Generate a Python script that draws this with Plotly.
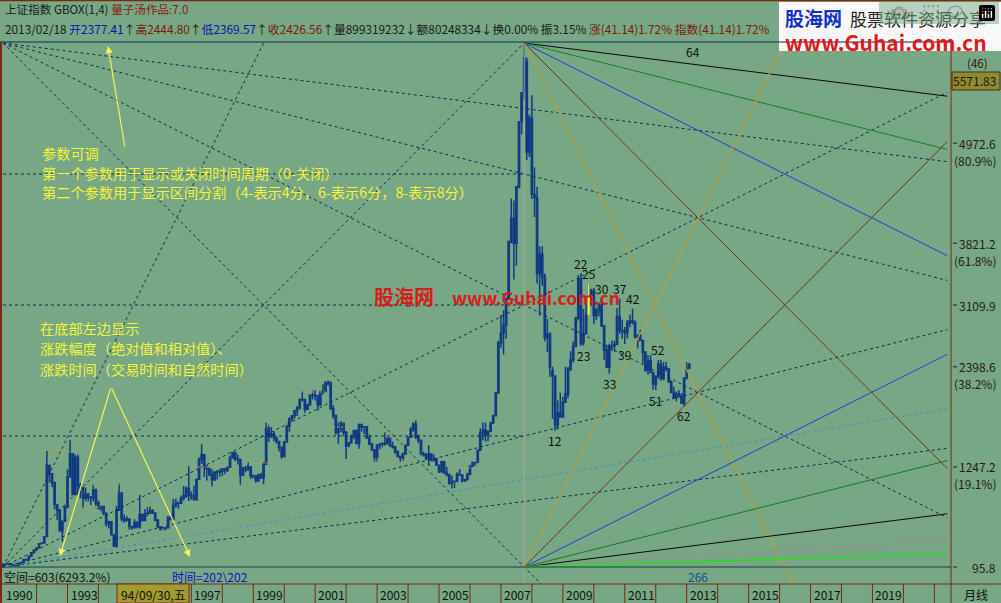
import plotly.graph_objects as go

# ---------------- data: monthly Shanghai Composite, Dec 1990 .. Feb 2013 ----------------
opens = [
    96.05,
    127.61, 129.51, 132.53, 120.67, 113.16, 114.79, 137.70, 143.96, 181.27, 180.58, 219.21, 260.34,
    293.74, 314.12, 365.14, 371.04, 446.17, 1259.72, 1168.91, 1064.45, 810.33, 752.5, 505, 621,
    783, 1136, 1398, 930, 1358, 1034, 1007, 886, 932, 899, 891, 981,
    833, 770, 792, 714, 593, 616, 467, 333, 750, 948, 651, 630,
    647, 563, 549, 607, 558, 701, 630, 712, 713, 746, 717, 633,
    555, 537, 537, 547, 668, 643, 804, 832, 829, 887, 913, 1002,
    917, 914, 870, 1106, 1334, 1386, 1250, 1222, 1156, 1100, 1190, 1189,
    1194, 1222, 1206, 1243, 1351, 1411, 1339, 1332, 1150, 1236, 1217, 1248,
    1146, 1134, 1090, 1158, 1120, 1279, 1689, 1601, 1627, 1586, 1539, 1474,
    1367, 1535, 1714, 1800, 1836, 1894, 1928, 2023, 2022, 1910, 1961, 2071,
    2073, 2065, 1959, 2112, 2119, 2214, 2218, 1920, 1834, 1642, 1690, 1747,
    1646, 1491, 1524, 1603, 1667, 1516, 1732, 1708, 1709, 1581, 1507, 1446,
    1358, 1500, 1512, 1510, 1521, 1576, 1487, 1476, 1421, 1367, 1349, 1397,
    1497, 1590, 1675, 1741, 1595, 1555, 1399, 1386, 1342, 1396, 1320, 1340,
    1266, 1191, 1306, 1181, 1159, 1060, 1080, 1083, 1162, 1155, 1092, 1099,
    1161, 1258, 1299, 1298, 1440, 1641, 1672, 1612, 1658, 1752, 1837, 2099,
    2675, 2786, 2881, 3183, 3841, 4109, 3820, 4471, 5218, 5552, 5914, 4871,
    5262, 4383, 4348, 3473, 3693, 3433, 2736, 2775, 2355, 2293, 1729, 1871,
    1821, 1991, 2082, 2373, 2477, 2633, 2959, 3412, 2680, 2779, 2996, 3195,
    3277, 2989, 3051, 3110, 2871, 2592, 2398, 2638, 2639, 2656, 2979, 2820,
    2808, 2791, 2906, 2928, 2911, 2743, 2762, 2701, 2568, 2359, 2468, 2333,
    2199, 2293, 2428, 2263, 2397, 2373, 2226, 2103, 2047, 2086, 2069, 1980,
    2269, 2385,
]
highs = [
    127.61,
    135.19, 134.87, 133.32, 120.86, 114.88, 137.56, 143.80, 180.92, 188.98, 218.60, 259.60, 292.75,
    313.24, 364.52, 372.74, 445.23, 1429.01, 1274.89, 1171.27, 1078.49, 824.29, 752.5, 629, 812,
    1221, 1558.95, 1402, 1392, 1390, 1065, 1019, 1009, 950, 912, 1044, 1000,
    864, 800, 798, 720, 629, 618, 470, 800, 1052.94, 951, 700, 679,
    654, 566, 644, 618, 926, 705, 762, 788, 792, 760, 722, 648,
    560, 556, 555, 679, 704, 882, 884, 850, 917, 1028, 1021, 1258,
    968, 1030, 1106, 1357, 1510, 1390, 1271, 1240, 1224, 1196, 1213, 1225,
    1234, 1234, 1248, 1378, 1422, 1423, 1390, 1333, 1249, 1262, 1300, 1252,
    1160, 1158, 1170, 1180, 1300, 1756, 1725, 1707, 1657, 1595, 1546, 1482,
    1546, 1728, 1817, 1845, 1900, 1948, 2024, 2114, 2032, 1977, 2082, 2125,
    2131, 2076, 2119, 2199, 2232, 2245, 2229, 1962, 1850, 1758, 1776, 1758,
    1660, 1530, 1617, 1674, 1678, 1748, 1748, 1714, 1718, 1620, 1525, 1447,
    1505, 1520, 1530, 1649, 1590, 1579, 1541, 1488, 1435, 1380, 1414, 1506,
    1598, 1707, 1760, 1783, 1616, 1555, 1424, 1406, 1496, 1398, 1390, 1347,
    1269, 1318, 1308, 1245, 1160, 1146, 1085, 1187, 1223, 1156, 1110, 1180,
    1262, 1303, 1308, 1445, 1692, 1757, 1757, 1660, 1767, 1848, 2110, 2698,
    2994, 3049, 3197, 3848, 4335, 4311, 4472, 5219, 5562, 6124.04, 5955, 5303,
    5522, 4695, 4472, 3786, 3786, 3473, 2952, 2796, 2400, 2303, 2010, 2101,
    2054, 2402, 2398, 2579, 2689, 2975, 3455, 3478, 3068, 3123, 3361, 3298,
    3306, 3078, 3138, 3181, 2871, 2653, 2664, 2700, 2698, 3077, 3186, 2939,
    2858, 2938, 3000, 3067, 2933, 2768, 2826, 2709, 2572, 2536, 2536, 2340,
    2301, 2478, 2478, 2454, 2453, 2384, 2245, 2169, 2115, 2132, 2094, 2276,
    2452, 2444.80,
]
lows = [
    95.79,
    127.61, 128.06, 120.11, 113.94, 104.96, 114.52, 136.85, 143.96, 178.43, 180.58, 219.21, 260.34,
    292.76, 314.12, 364.85, 370.23, 446.17, 1067.32, 1016.45, 758.22, 640.10, 512, 386.85, 620,
    783, 1120, 925, 930, 920, 889, 778, 850, 850, 810, 851, 795,
    765, 737, 690, 560, 543, 467, 325.89, 333, 750, 620, 605, 618,
    524, 524, 537, 540, 540, 619, 630, 680, 712, 706, 622, 555,
    512, 523, 520, 547, 636, 640, 780, 767, 820, 860, 891, 855,
    870, 870, 870, 1101, 1280, 1130, 1091, 1142, 1025, 1086, 1102, 1135,
    1142, 1164, 1192, 1235, 1340, 1315, 1276, 1043, 1144, 1185, 1200, 1109,
    1116, 1064, 1073, 1114, 1047, 1279, 1534, 1580, 1542, 1515, 1426, 1341,
    1361, 1532, 1653, 1770, 1800, 1832, 1909, 1999, 1871, 1900, 1957, 2023,
    2012, 1893, 1950, 2080, 2104, 2182, 1903, 1800, 1620, 1514, 1650, 1600,
    1339, 1473, 1514, 1566, 1505, 1455, 1652, 1625, 1580, 1500, 1430, 1311,
    1311, 1450, 1474, 1490, 1501, 1486, 1458, 1398, 1358, 1307, 1316, 1389,
    1496, 1590, 1652, 1568, 1519, 1381, 1366, 1327, 1259, 1318, 1310, 1259,
    1178, 1187, 1163, 1136, 1043, 998, 1004, 1080, 1145, 1067, 1074, 1094,
    1161, 1244, 1258, 1296, 1436, 1554, 1541, 1543, 1647, 1741, 1828, 2092,
    2617, 2541, 2723, 3183, 3817, 3404, 3563, 4451, 5076, 5462, 4778, 4812,
    4330, 4123, 3357, 2990, 3333, 2693, 2566, 2284, 1802, 1664, 1678, 1814,
    1820, 1990, 2037, 2350, 2449, 2626, 2933, 2639, 2640, 2770, 2990, 3097,
    2890, 2935, 2977, 2858, 2481, 2382, 2319, 2580, 2573, 2655, 2776, 2721,
    2661, 2726, 2853, 2885, 2724, 2610, 2696, 2437, 2340, 2307, 2332, 2134,
    2132, 2262, 2242, 2244, 2349, 2212, 2102, 2029, 1999, 2058, 1974, 1949,
    2253, 2369.57,
]
closes = [
    127.61,
    129.97, 133.01, 120.19, 113.94, 114.83, 137.56, 143.80, 180.92, 180.39, 218.60, 259.60, 292.75,
    313.24, 364.52, 370.59, 445.23, 1266.49, 1167.45, 1063.64, 815.55, 748.35, 513, 621, 780.39,
    1131, 1398, 930, 1358, 1034, 1007, 886, 932, 899, 891, 981, 833,
    770, 792, 714, 593, 616, 467, 333.92, 750, 948, 651, 630, 647,
    563, 549, 607, 558, 701, 630, 712, 713, 746, 717, 633, 555,
    537, 537, 547, 668, 643, 804, 832, 829, 887, 913, 1002, 917,
    914, 870, 1106, 1334, 1386, 1250, 1222, 1156, 1100, 1190, 1189, 1194,
    1222, 1206, 1243, 1351, 1411, 1339, 1332, 1150, 1236, 1217, 1248, 1146,
    1134, 1090, 1158, 1120, 1279, 1689, 1601, 1627, 1586, 1539, 1474, 1367,
    1535, 1714, 1800, 1836, 1894, 1928, 2023, 2022, 1910, 1961, 2071, 2073,
    2065, 1959, 2112, 2119, 2214, 2218, 1920, 1834, 1642, 1690, 1747, 1646,
    1491, 1524, 1603, 1667, 1516, 1732, 1708, 1709, 1581, 1507, 1446, 1358,
    1500, 1512, 1510, 1521, 1576, 1487, 1476, 1421, 1367, 1349, 1397, 1497,
    1590, 1675, 1741, 1595, 1555, 1399, 1386, 1342, 1396, 1320, 1340, 1266,
    1191, 1306, 1181, 1159, 1060, 1080, 1083, 1162, 1155, 1092, 1099, 1161,
    1258, 1299, 1298, 1440, 1641, 1672, 1612, 1658, 1752, 1837, 2099, 2675,
    2786, 2881, 3183, 3841, 4109, 3820, 4471, 5218, 5552, 5954, 4871, 5262,
    4383, 4348, 3473, 3693, 3433, 2736, 2775, 2397, 2293, 1729, 1871, 1821,
    1991, 2082, 2373, 2477, 2633, 2959, 3412, 2668, 2779, 2996, 3195, 3277,
    2989, 3051, 3110, 2871, 2592, 2398, 2638, 2639, 2656, 2979, 2820, 2808,
    2791, 2906, 2928, 2911, 2743, 2762, 2701, 2568, 2359, 2468, 2333, 2199,
    2293, 2428, 2263, 2397, 2373, 2226, 2103, 2047, 2086, 2069, 1980, 2269,
    2385, 2426.56,
]
month_idx = list(range(len(closes)))   # 0 = 1990/12

# GBOX structure
box_low = 95.79
box_high = 6124.04
peak_idx = 202          # 2007/10
right_idx = 366

# Small sub-box segments drawn by the indicator: (start month, end month, price)
seg_start = [16, 35, 30, 56, 71, 94, 115, 128, 146, 145, 174]
seg_end = [25, 45, 38, 64, 83, 105, 126, 136, 158, 160, 181]
seg_price = [1442, 1039, 786, 786, 1246, 1292, 2109, 1706, 1649, 1327, 1235]

# Wave count labels (months after the peak) and whether they mark a high or a low
count_labels = [12, 22, 23, 25, 30, 33, 37, 39, 42, 51, 52, 62]
count_side = ["low", "high", "low", "high", "high", "low", "high", "low", "high", "low", "high", "low"]

# Right axis
right_tick_vals = [4972.6, 3821.2, 3109.9, 2398.6, 1247.2, 95.8]
right_tick_pct = ["(80.9%)", "(61.8%)", "", "(38.2%)", "(19.1%)", ""]

# Bottom axis
year_names = ["1990", "1993", "1997", "1999", "2001", "2003", "2005", "2007",
              "2009", "2011", "2013", "2015", "2017", "2019"]
year_pos = [0, 25, 73, 97, 121, 145, 169, 193, 217, 241, 265, 289, 313, 337]
jan_pos = [13 + 12 * k for k in range(30)]   # January separators 1992..2021

# Gann fan ratios (1x1 = box range / box months)
left_fan_up = [2, 1, 0.5, 0.25, 0.125]
left_fan_down = [1, 0.5, 0.25, 0.125]
right_fan_ratios = [0.125, 0.25, 0.5, 1, 2]
right_fan_colors_top = ["#0a0a0a", "#17802a", "#1f3fd0", "#7a3018", "#b4a044"]
right_fan_colors_bot = ["#0a0a0a", "#127a28", "#1f3fd0", "#7a3018", "#b4a044"]

# ---------------- layout helpers ----------------
W, HGT = 1001, 603
BG = "#77a784"
BORDER = "#7a2a12"
NAVY = "#0c2c56"
X0PX, PXM = 3.0, 2.58
Y0PX, PPP = 567.0, 11.505     # py of box_low, price units per pixel
PLOT_RIGHT, PLOT_TOP, PLOT_BOT = 951, 42, 584


def pxx(x):
    return x / W


def pyy(y):
    return 1 - y / HGT


x_range = [(0 - X0PX) / PXM, (PLOT_RIGHT - X0PX) / PXM]
y_range = [box_low - (PLOT_BOT - Y0PX) * PPP, box_low + (Y0PX - PLOT_TOP) * PPP]

fig = go.Figure()

rate = (box_high - box_low) / (peak_idx - 0)


def add_line(xs, ys, color, dash="solid", width=1):
    fig.add_trace(go.Scatter(x=xs, y=ys, mode="lines", hoverinfo="skip",
                             line=dict(color=color, width=width, dash=dash),
                             showlegend=False))


DASH = "3px,3px"
# horizontal quarter levels (left box only)
for q in [0.25, 0.5, 0.75]:
    lv = box_low + q * (box_high - box_low)
    add_line([0, peak_idx], [lv, lv], NAVY, DASH)
# left box fans from the bottom-left origin
for r in left_fan_up:
    add_line([0, right_idx], [box_low, box_low + r * rate * right_idx], NAVY, DASH)
# left box fans from the top-left corner
for r in left_fan_down:
    add_line([0, right_idx], [box_high, box_high - r * rate * right_idx], NAVY, DASH)
# light blue fan from origin
add_line([0, right_idx], [box_low, box_low + rate / 6 * right_idx], "#3c8fd6", DASH)

# vertical line at the peak
add_line([peak_idx, peak_idx], [y_range[0], box_high], "#a8a898", "solid")

# sub-box segments
for s0, s1, p in zip(seg_start, seg_end, seg_price):
    add_line([s0, s1], [p, p], "#c89a48", "2px,2px")

# right box solid fans
span = right_idx - peak_idx
for r, c in zip(right_fan_ratios, right_fan_colors_top):
    add_line([peak_idx, right_idx], [box_high, box_high - r * rate * span], c,
             width=1.3 if c == "#b4a044" else 1)
for r, c in zip(right_fan_ratios, right_fan_colors_bot):
    add_line([peak_idx, right_idx], [box_low, box_low + r * rate * span], c,
             width=1.3 if c == "#b4a044" else 1)
add_line([peak_idx, right_idx], [box_low, box_low + rate / 16 * span], "#909090")
add_line([peak_idx, right_idx], [box_low, box_low + rate / 32 * span], "#3ad23a", width=2)

# candles
fig.add_trace(go.Candlestick(
    x=month_idx, open=opens, high=highs, low=lows, close=closes,
    increasing=dict(line=dict(color="#103a82", width=1.5), fillcolor="#2a5aa6"),
    decreasing=dict(line=dict(color="#103a82", width=1.5), fillcolor="#1d4f9e"),
    whiskerwidth=0, hoverinfo="skip", showlegend=False))

# highlighted (cursor) candle
hl = 227
fig.add_trace(go.Candlestick(
    x=[hl], open=[opens[hl]], high=[highs[hl]], low=[lows[hl]], close=[closes[hl]],
    increasing=dict(line=dict(color="#f0f040", width=1.2), fillcolor=BG),
    decreasing=dict(line=dict(color="#f0f040", width=1.2), fillcolor=BG),
    whiskerwidth=0, hoverinfo="skip", showlegend=False))

annotations = []
shapes = []

FONT = "Noto Sans CJK SC, Liberation Sans, sans-serif"

# wave count labels
for n, side in zip(count_labels, count_side):
    i = peak_idx + n
    if side == "high":
        annotations.append(dict(x=i, y=highs[i], xref="x", yref="y", text=str(n), showarrow=False,
                                yshift=10, font=dict(size=12, color="#101010", family=FONT)))
    else:
        annotations.append(dict(x=i, y=lows[i], xref="x", yref="y", text=str(n), showarrow=False,
                                yshift=-10, font=dict(size=12, color="#101010", family=FONT)))
annotations.append(dict(x=peak_idx + 64, y=box_high, xref="x", yref="y", text="64", showarrow=False,
                        yshift=-8, xshift=4, font=dict(size=12, color="#101010", family=FONT)))


def txt(x, y, text, size=12, color="#101010", xanchor="left", yanchor="middle", **kw):
    annotations.append(dict(x=pxx(x), y=pyy(y), xref="paper", yref="paper", text=text,
                            showarrow=False, xanchor=xanchor, yanchor=yanchor,
                            font=dict(size=size, color=color, family=FONT), **kw))


# header
txt(3, 9, "上证指数 GBOX(1,4) <span style='color:#8a1a10'>量子汤作品:7.0</span>", size=11.6, color="#1a1a1a")
BL, RD = "#1010b0", "#7a1a10"
hdr = (f"2013/02/18 <span style='color:{BL}'>开2377.41</span>↑<span style='color:{RD}'>高2444.80</span>↑"
       f"<span style='color:{BL}'>低2369.57</span>↑<span style='color:{RD}'>收2426.56</span>↑"
       f"量899319232↓额80248334↓换0.00% 振3.15% <span style='color:{RD}'>涨(41.14)1.72%</span> "
       f"<span style='color:{RD}'>指数(41.14)1.72%</span>")
txt(3, 28, hdr, size=11.8, color="#1a1a1a")

# yellow explanation texts
YEL = "#f4f43a"
txt(40, 153, "参数可调", size=14.2, color=YEL)
txt(40, 173, "第一个参数用于显示或关闭时间周期（0-关闭）", size=14.2, color=YEL)
txt(40, 192, "第二个参数用于显示区间分割（4-表示4分，6-表示6分，8-表示8分）", size=14.2, color=YEL)
txt(38, 328, "在底部左边显示", size=14.2, color=YEL)
txt(38, 348, "涨跌幅度（绝对值和相对值）、", size=14.2, color=YEL)
txt(38, 369, "涨跌时间（交易时间和自然时间）", size=14.2, color=YEL)

# yellow arrows (head at hx,hy; tail at tx,ty)
for (tx, ty, hx, hy) in [(125, 148, 108, 46), (111, 387, 60, 556), (111, 387, 190, 557)]:
    annotations.append(dict(x=pxx(hx), y=pyy(hy), xref="paper", yref="paper",
                            ax=tx - hx, ay=ty - hy, axref="pixel", ayref="pixel",
                            showarrow=True, arrowhead=2, arrowsize=1.2, arrowwidth=1.2,
                            arrowcolor="#f4f45a", text=""))

# watermark in chart
txt(372, 296, "<b>股海网</b>", size=20, color="#d81c1c")
txt(450, 297, "<b>www.Guhai.com.cn</b>", size=17.5, color="#d81c1c")

# logo box top right
shapes.append(dict(type="rect", xref="paper", yref="paper", x0=pxx(779), x1=pxx(1001),
                   y0=pyy(51), y1=pyy(2), fillcolor="#f8f8f8", line=dict(width=0)))
txt(783, 18, "<b>股海网</b>", size=19, color="#1030c8")
txt(848, 19, "股票软件资源分享", size=17, color="#202020")
txt(783, 42, "<b>www.Guhai.com.cn</b>", size=21, color="#e01a1a")

# top/bottom separators
shapes.append(dict(type="line", xref="paper", yref="paper", x0=0, x1=pxx(PLOT_RIGHT),
                   y0=pyy(42), y1=pyy(42), line=dict(color=NAVY, width=1)))
shapes.append(dict(type="line", xref="paper", yref="paper", x0=0, x1=pxx(PLOT_RIGHT),
                   y0=pyy(567), y1=pyy(567), line=dict(color="#1a3a4a", width=1)))
shapes.append(dict(type="line", xref="paper", yref="paper", x0=0, x1=1,
                   y0=pyy(0.5), y1=pyy(0.5), line=dict(color=BORDER, width=1.5)))
shapes.append(dict(type="line", xref="paper", yref="paper", x0=pxx(1), x1=pxx(1),
                   y0=pyy(42), y1=pyy(603), line=dict(color=BORDER, width=2)))
# right axis line
shapes.append(dict(type="line", xref="paper", yref="paper", x0=pxx(PLOT_RIGHT), x1=pxx(PLOT_RIGHT),
                   y0=pyy(42), y1=pyy(603), line=dict(color=BORDER, width=1)))
# bottom axis row
shapes.append(dict(type="line", xref="paper", yref="paper", x0=0, x1=1,
                   y0=pyy(PLOT_BOT), y1=pyy(PLOT_BOT), line=dict(color=BORDER, width=1)))
for j in jan_pos:
    xpx = X0PX + PXM * j
    if xpx < PLOT_RIGHT - 3:
        shapes.append(dict(type="line", xref="paper", yref="paper", x0=pxx(xpx), x1=pxx(xpx),
                           y0=pyy(PLOT_BOT), y1=0, line=dict(color=BORDER, width=1)))
for name, j in zip(year_names, year_pos):
    txt(X0PX + PXM * j + 1, 594, name, size=12, color="#101010")
# cursor date box
shapes.append(dict(type="rect", xref="paper", yref="paper", x0=pxx(117), x1=pxx(189),
                   y0=0, y1=pyy(PLOT_BOT), fillcolor="#a39b2e", line=dict(color=BORDER, width=1)))
txt(153, 594, "94/09/30,五", size=12, color="#101010", xanchor="center")
txt(976, 594, "月线", size=12, color="#101010", xanchor="center")

# bottom info
txt(2, 576, "空间=603(6293.2%)", size=12, color="#101010")
txt(170, 576, "时间=202\\202", size=12, color="#1010c0")
annotations.append(dict(x=266, y=box_low, xref="x", yref="y", text="266", showarrow=False,
                        yshift=-9, xshift=9, font=dict(size=12, color="#1a4a8a", family=FONT)))

# right axis ticks
for v, pct in zip(right_tick_vals, right_tick_pct):
    annotations.append(dict(x=pxx(998), y=v, xref="paper", yref="y", text=str(v), showarrow=False,
                            xanchor="right", font=dict(size=12, color="#2a1a10", family=FONT)))
    shapes.append(dict(type="line", xref="paper", yref="y", x0=pxx(953), x1=pxx(957), y0=v, y1=v,
                       line=dict(color="#2a1a10", width=1)))
    if pct:
        annotations.append(dict(x=pxx(998), y=v, xref="paper", yref="y", text=pct, showarrow=False,
                                xanchor="right", yshift=-17,
                                font=dict(size=12, color="#2a1a10", family=FONT)))
txt(977, 63, "(46)", size=11.5, color="#2a1a10", xanchor="center")
shapes.append(dict(type="rect", xref="paper", yref="paper", x0=pxx(952), x1=pxx(1000),
                   y0=pyy(90), y1=pyy(72), fillcolor="#8f8a2c", line=dict(color="#4a2a10", width=1)))
txt(998, 81, "5571.83", size=12, color="#1a1a1a", xanchor="right")

fig.update_layout(
    width=W, height=HGT, margin=dict(l=0, r=0, t=0, b=0),
    paper_bgcolor=BG, plot_bgcolor=BG,
    font=dict(family=FONT),
    xaxis=dict(domain=[0, pxx(PLOT_RIGHT)], range=x_range, visible=False,
               rangeslider=dict(visible=False), fixedrange=True),
    yaxis=dict(domain=[pyy(PLOT_BOT), pyy(PLOT_TOP)], range=y_range, visible=False, fixedrange=True),
    annotations=annotations, shapes=shapes, showlegend=False,
)

fig.write_html("out.html", post_script="document.body.style.margin='0';document.body.style.overflow='hidden';")
